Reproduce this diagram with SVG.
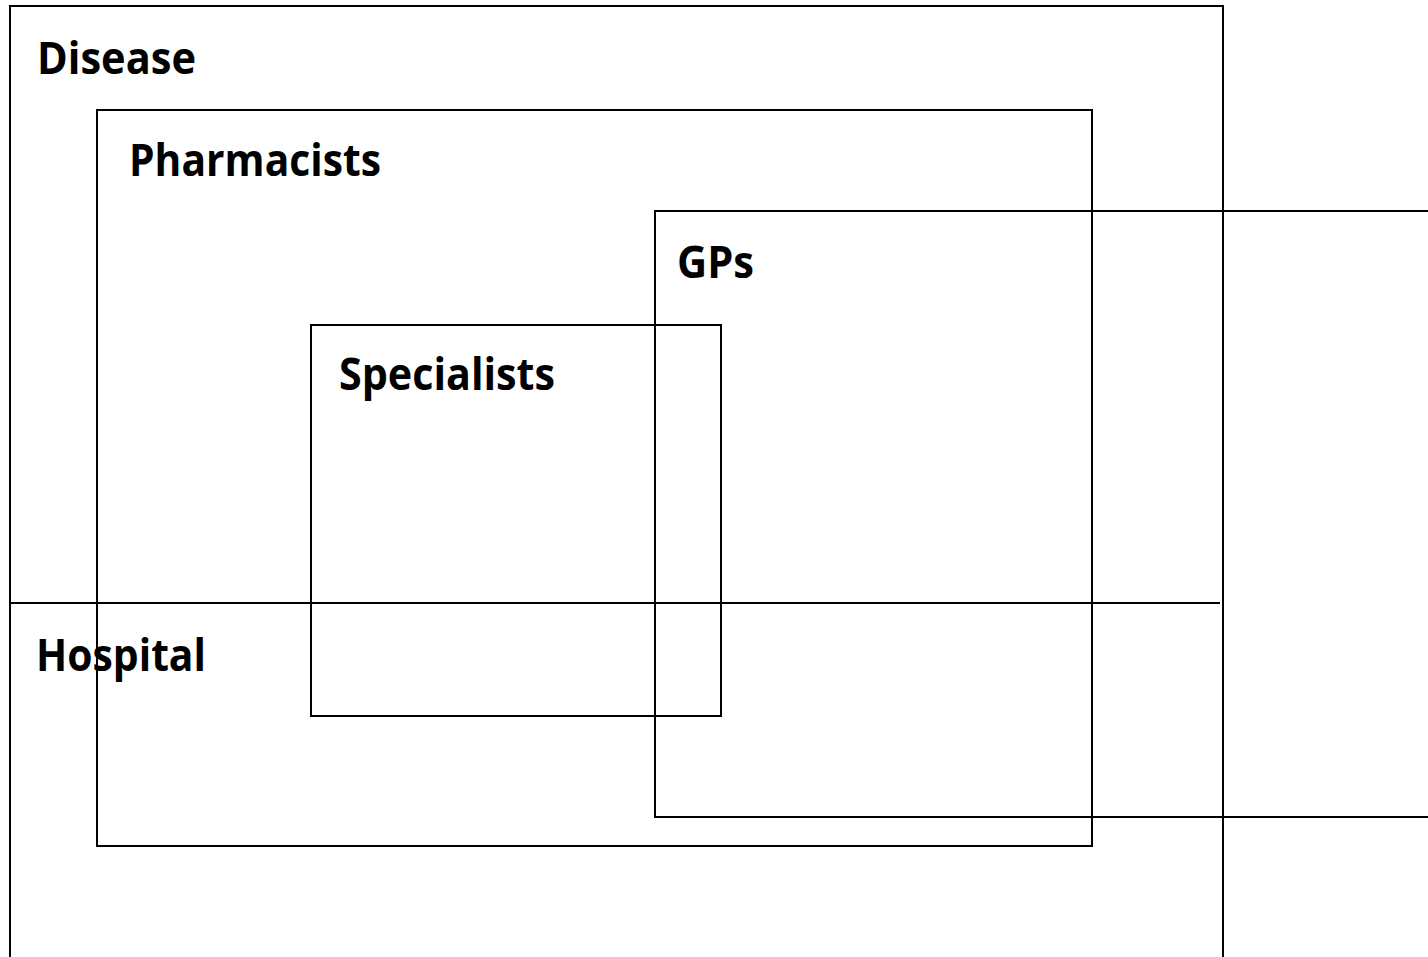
<svg xmlns="http://www.w3.org/2000/svg" width="1428" height="957" viewBox="0 0 1428 957">
  <style>
    .box { fill: none; stroke: #000; stroke-width: 2; }
    .label { font-family: "Open Sans", "Noto Sans", "Liberation Sans", sans-serif; font-weight: 700; font-size: 44px; fill: #000; }
  </style>
  <rect width="1428" height="957" fill="#fff"/>

  <g id="disease">
    <rect class="box" x="10" y="6" width="1213" height="980"/>
    <text class="label" x="37" y="74" textLength="159" lengthAdjust="spacingAndGlyphs">Disease</text>
  </g>

  <g id="pharmacists">
    <rect class="box" x="97" y="110" width="995" height="736"/>
    <text class="label" x="129" y="176" textLength="252" lengthAdjust="spacingAndGlyphs">Pharmacists</text>
  </g>

  <g id="gps">
    <rect class="box" x="655" y="211" width="800" height="606"/>
    <text class="label" x="677" y="278" textLength="77" lengthAdjust="spacingAndGlyphs">GPs</text>
  </g>

  <g id="specialists">
    <rect class="box" x="311" y="325" width="410" height="391"/>
    <text class="label" x="339" y="390" textLength="216" lengthAdjust="spacingAndGlyphs">Specialists</text>
  </g>

  <g id="hospital">
    <line class="box" x1="10" y1="603" x2="1220" y2="603"/>
    <text class="label" x="36" y="671" textLength="170" lengthAdjust="spacingAndGlyphs">Hospital</text>
  </g>

  <g id="connectors"></g>
</svg>
